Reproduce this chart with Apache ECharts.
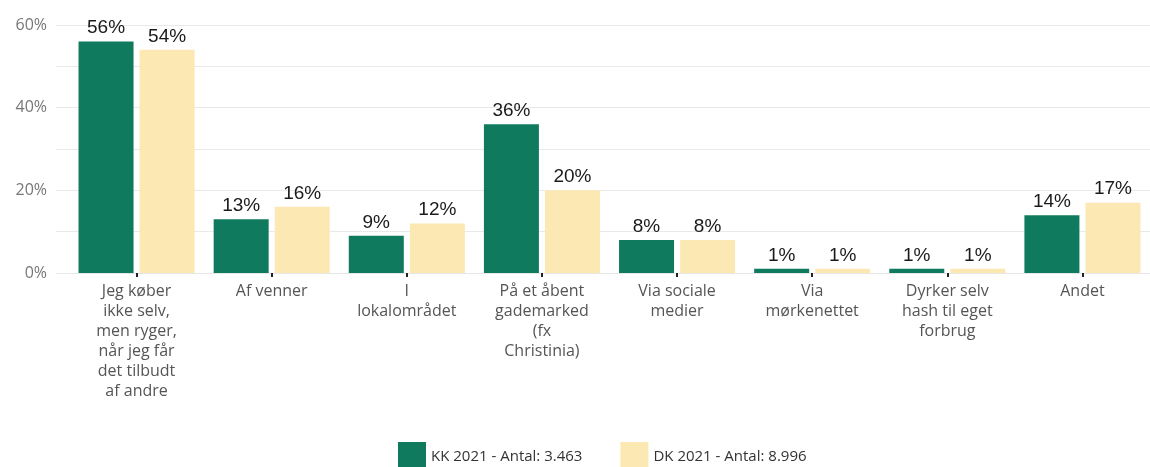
<!DOCTYPE html>
<html>
<head>
<meta charset="utf-8">
<script src="https://cdn.jsdelivr.net/npm/echarts@6/dist/echarts.min.js"></script>
<style>
  html, body { margin: 0; padding: 0; background: #fff; }
  #chart { width: 1150px; height: 467px; }
</style>
</head>
<body>
<div id="chart"></div>
<script>
// Hvor skaffer du hash? — andel pr. svarkategori
const categories = [
  'Jeg køber\nikke selv,\nmen ryger,\nnår jeg får\ndet tilbudt\naf andre',
  'Af venner',
  'I\nlokalområdet',
  'På et åbent\ngademarked\n(fx\nChristinia)',
  'Via sociale\nmedier',
  'Via\nmørkenettet',
  'Dyrker selv\nhash til eget\nforbrug',
  'Andet'
];
const seriesNames = ['KK 2021 - Antal: 3.463', 'DK 2021 - Antal: 8.996'];
const kkValues = [56, 13, 9, 36, 8, 1, 1, 14];
const dkValues = [54, 16, 12, 20, 8, 1, 1, 17];
const yTicks = [0, 20, 40, 60];

const GREEN = '#0f7a5d';
const YELLOW = '#fce8b2';
const axisFont = '"Open Sans", "Noto Sans", sans-serif';
const valueFont = '"Liberation Sans", Arial, sans-serif';

const chart = echarts.init(document.getElementById('chart'));

const yBase = {
  type: 'value',
  min: 0,
  max: 60,
  interval: 10
};

const valueLabel = {
  show: true,
  position: 'top',
  distance: 4,
  formatter: p => p.value + '%',
  fontFamily: valueFont,
  fontSize: 19,
  color: '#1a1a1a'
};

chart.setOption({
  animation: false,
  backgroundColor: '#ffffff',
  grid: [
    // background grid carrying the percentage scale
    { left: 56, right: 0, top: 25, bottom: 194 },
    // plotting area for the bars
    { left: 69, right: 0, top: 25, bottom: 194 }
  ],
  legend: {
    left: 393,
    top: 437,
    icon: 'rect',
    itemWidth: 28,
    itemHeight: 30,
    itemGap: 38,
    textStyle: { fontFamily: axisFont, fontSize: 15, color: '#333' },
    data: seriesNames
  },
  xAxis: [
    {
      gridIndex: 0,
      type: 'value',
      show: false,
      min: 0,
      max: 1
    },
    {
      gridIndex: 1,
      type: 'category',
      data: categories,
      axisLine: { show: true, lineStyle: { color: '#e6e6e6', width: 1 } },
      axisTick: { show: true, alignWithLabel: true, length: 4, lineStyle: { color: '#222', width: 2 } },
      axisLabel: {
        interval: 0,
        margin: 8,
        fontFamily: axisFont,
        fontSize: 16,
        lineHeight: 20,
        color: '#555',
        align: 'center'
      }
    }
  ],
  yAxis: [
    Object.assign({}, yBase, {
      gridIndex: 0,
      axisLine: { show: false },
      axisTick: { show: false },
      splitLine: { show: true, lineStyle: { color: '#e9e9e9', width: 1 } },
      axisLabel: {
        margin: 9,
        fontFamily: axisFont,
        fontSize: 16,
        color: '#777',
        formatter: v => (yTicks.indexOf(v) >= 0 ? v + '%' : '')
      }
    }),
    Object.assign({}, yBase, {
      gridIndex: 1,
      show: false,
      splitLine: { show: false }
    })
  ],
  series: [
    {
      name: seriesNames[0],
      type: 'bar',
      xAxisIndex: 1,
      yAxisIndex: 1,
      data: kkValues,
      barWidth: 55,
      barGap: '11%',
      itemStyle: { color: GREEN },
      label: valueLabel
    },
    {
      name: seriesNames[1],
      type: 'bar',
      xAxisIndex: 1,
      yAxisIndex: 1,
      data: dkValues,
      barWidth: 55,
      barGap: '11%',
      itemStyle: { color: YELLOW },
      label: valueLabel
    }
  ]
});
</script>
</body>
</html>
